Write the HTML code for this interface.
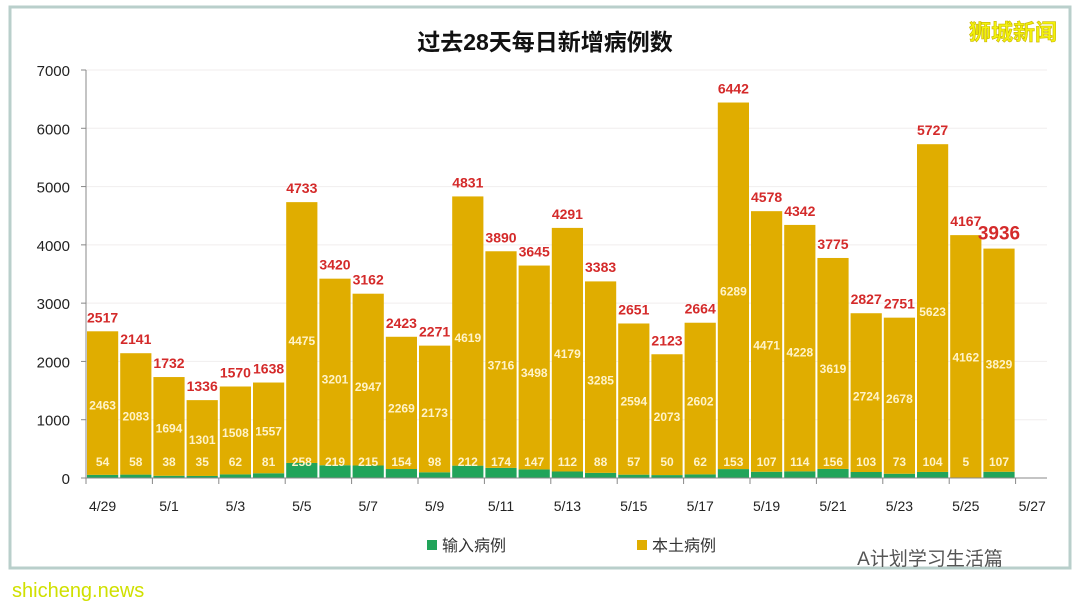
<!DOCTYPE html>
<html><head><meta charset="utf-8">
<style>
body{margin:0;width:1080px;height:607px;background:#fff;overflow:hidden;font-family:"Liberation Sans","Noto Sans CJK SC",sans-serif}
svg text{font-family:"Liberation Sans","Noto Sans CJK SC",sans-serif}
</style></head><body>
<svg id="c" width="1080" height="607">
<rect x="10" y="7" width="1060" height="561" fill="#fff" stroke="#b9cfcb" stroke-width="3"/>
<text x="545" y="50" font-size="23" font-weight="bold" text-anchor="middle" fill="#111">过去28天每日新增病例数</text>
<text x="1013" y="40" font-size="22" font-weight="bold" text-anchor="middle" fill="#f2f20a" stroke="#c9b400" stroke-width="0.6">狮城新闻</text>
<g id="grid"></g><g id="bars"></g><g id="axes"></g>
<rect x="427" y="540" width="10" height="10" fill="#21a45a"/>
<text x="442" y="551" font-size="16" fill="#333">输入病例</text>
<rect x="637" y="540" width="10" height="10" fill="#e0ad00"/>
<text x="652" y="551" font-size="16" fill="#333">本土病例</text>
<text x="930" y="565" font-size="19" fill="#555" text-anchor="middle">A计划学习生活篇</text>
<text x="12" y="597" font-size="20" fill="#d0e000">shicheng.news</text>
</svg>
<script>
const categories=["4/29","4/30","5/1","5/2","5/3","5/4","5/5","5/6","5/7","5/8","5/9","5/10","5/11","5/12","5/13","5/14","5/15","5/16","5/17","5/18","5/19","5/20","5/21","5/22","5/23","5/24","5/25","5/26"];
const totals=[2517,2141,1732,1336,1570,1638,4733,3420,3162,2423,2271,4831,3890,3645,4291,3383,2651,2123,2664,6442,4578,4342,3775,2827,2751,5727,4167,3936];
const local=[2463,2083,1694,1301,1508,1557,4475,3201,2947,2269,2173,4619,3716,3498,4179,3285,2594,2073,2602,6289,4471,4228,3619,2724,2678,5623,4162,3829];
const imported=[54,58,38,35,62,81,258,219,215,154,98,212,174,147,112,88,57,50,62,153,107,114,156,103,73,104,5,107];
const yTicks=[0,1000,2000,3000,4000,5000,6000,7000];
const xLabels=["4/29","5/1","5/3","5/5","5/7","5/9","5/11","5/13","5/15","5/17","5/19","5/21","5/23","5/25","5/27"];
const NS="http://www.w3.org/2000/svg";
const x0=86,step=33.2,y0=478,yMax=7000,yTop=70;
const y=v=>y0-(v/yMax)*(y0-yTop);
const xs=i=>x0+i*step;
function mk(t,a,p){const e=document.createElementNS(NS,t);for(const k in a)e.setAttribute(k,a[k]);p.appendChild(e);return e;}
const G=document.getElementById('grid'),B=document.getElementById('bars'),A=document.getElementById('axes');
yTicks.forEach(v=>{
 if(v>0){const l=mk('line',{x1:x0,x2:1047,y1:y(v),y2:y(v),stroke:'#f0eeee'},G);
 
 }
 const t=mk('text',{x:70,y:y(v)+6,'font-size':15,'text-anchor':'end',fill:'#222'},A);t.textContent=v;
 
 
 mk('line',{x1:x0-5,x2:x0,y1:y(v),y2:y(v),stroke:'#888'},A);
});
const ax=mk('line',{x1:x0,x2:x0,y1:yTop,y2:y0,stroke:'#888'},A);


const bx=mk('line',{x1:x0,x2:1047,y1:y0,y2:y0,stroke:'#888'},A);


xLabels.forEach((s,j)=>{
 const cx=xs(2*j)+step/2;
 mk('line',{x1:xs(2*j),x2:xs(2*j),y1:y0,y2:y0+6,stroke:'#888'},A);
 const t=mk('text',{x:cx,y:y0+33,'font-size':14,'text-anchor':'middle',fill:'#222'},A);t.textContent=s;
 
 
});
categories.forEach((c,i)=>{
 const bx0=xs(i)+1,w=step-2,cx=xs(i)+step/2;
 const g=mk('rect',{x:bx0,y:y(imported[i]),width:w,height:y0-y(imported[i]),fill:'#21a45a'},B);
 
 
 const l=mk('rect',{x:bx0,y:y(imported[i]+local[i]),width:w,height:y(imported[i])-y(imported[i]+local[i]),fill:'#e0ad00'},B);
 
 
 const last=i===categories.length-1;
 const tt=mk('text',{x:cx,y:y(totals[i])-9,'font-size':last?19:14,'font-weight':'bold','text-anchor':'middle',fill:'#d42a2a'},B);tt.textContent=totals[i];
 
 
 const lt=mk('text',{x:cx,y:(y(imported[i]+local[i])+y0)/2+5,'font-size':12,'font-weight':'bold','text-anchor':'middle',fill:'#fff3c8'},B);lt.textContent=local[i];
 
 
 const it=mk('text',{x:cx,y:466,'font-size':12,'font-weight':'bold','text-anchor':'middle',fill:'#fff3c8'},B);it.textContent=imported[i];
 
 
});
</script>
</body></html>
